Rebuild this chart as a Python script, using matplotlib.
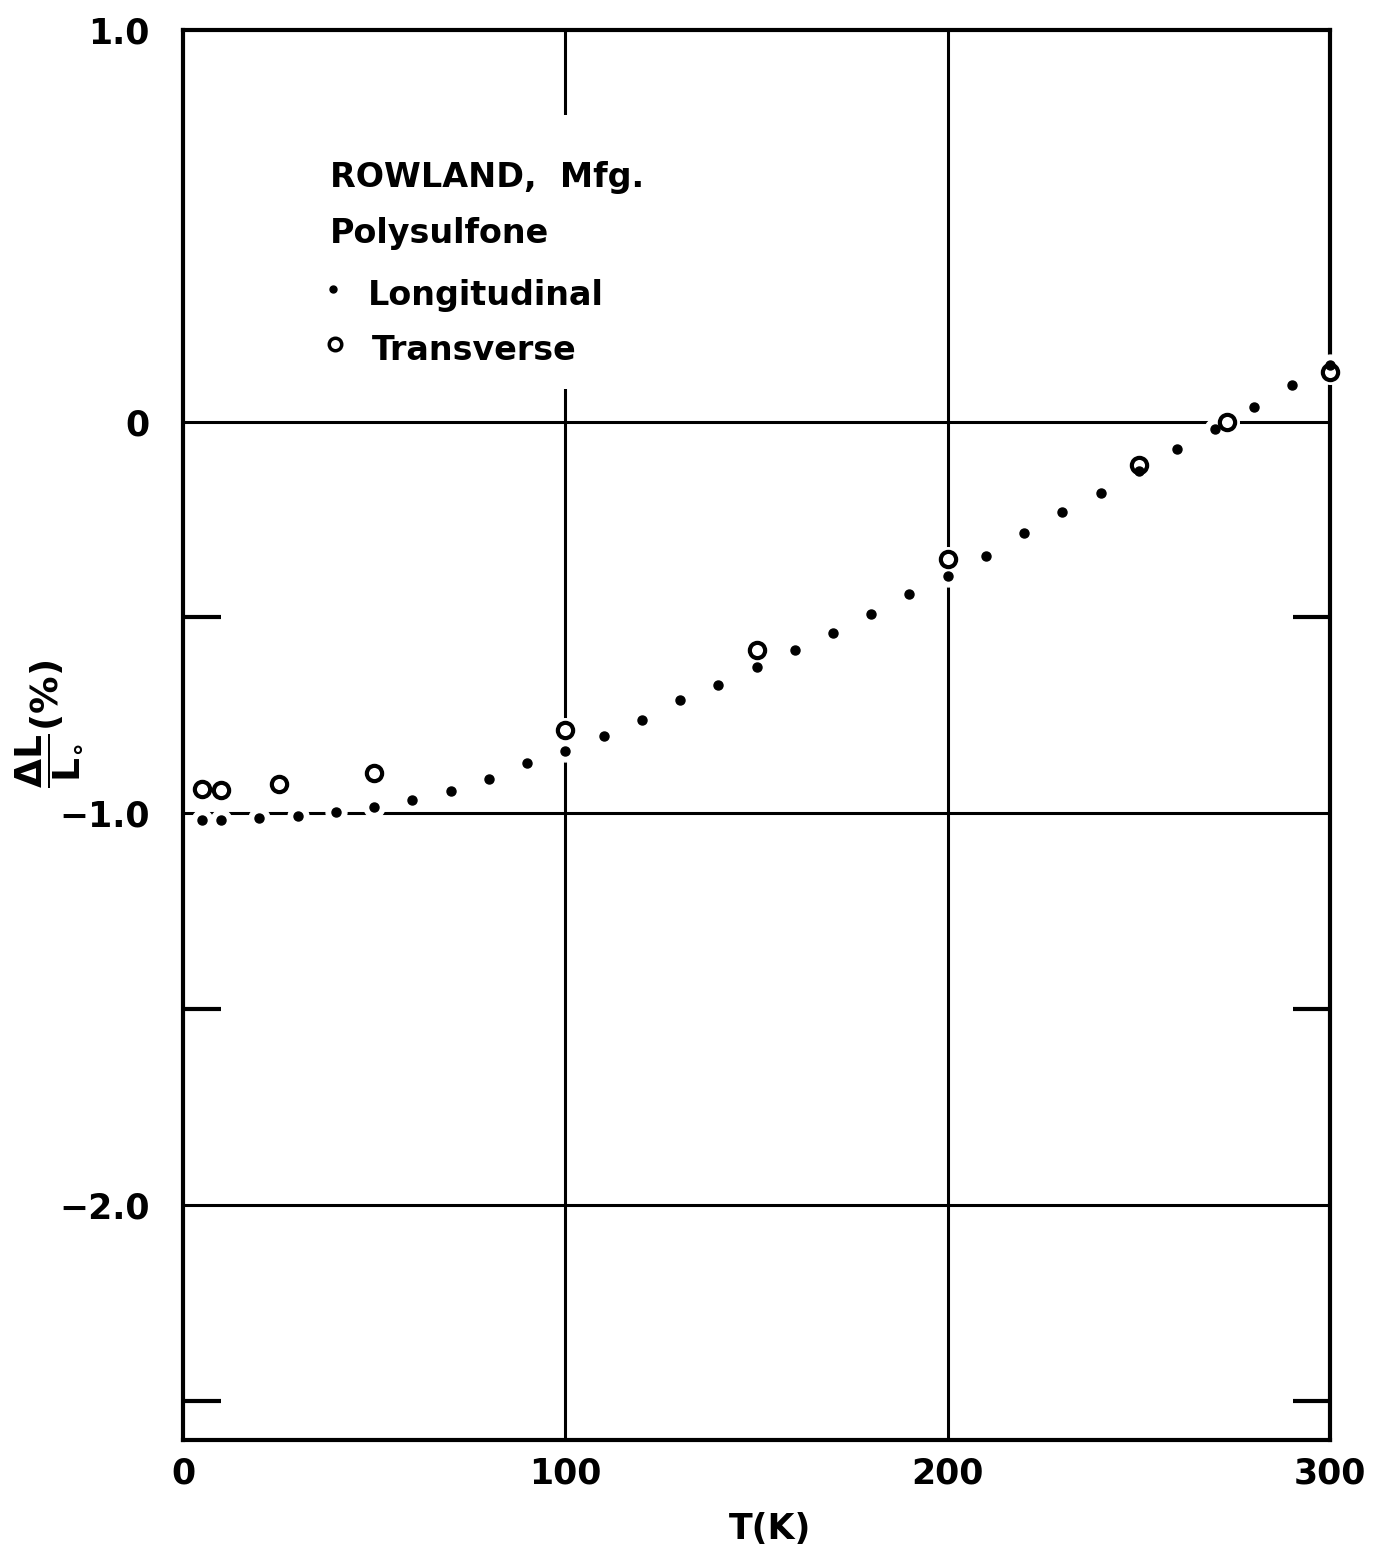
import matplotlib
matplotlib.use("Agg")
import matplotlib.pyplot as plt
from matplotlib.patches import Rectangle

plt.rcParams['font.family'] = ['DejaVu Sans']
plt.rcParams['font.weight'] = 'bold'
plt.rcParams['mathtext.default'] = 'bf'

# thermal expansion of polysulfone, dL/L0 in percent vs temperature
long_T = [5, 10, 20, 30, 40, 50, 60, 70, 80, 90, 100, 110, 120, 130, 140, 150,
          160, 170, 180, 190, 200, 210, 220, 230, 240, 250, 260, 270, 280, 290, 300]
long_dl = [-1.018, -1.018, -1.011, -1.008, -0.996, -0.984, -0.965, -0.944, -0.913,
           -0.872, -0.841, -0.802, -0.763, -0.712, -0.672, -0.627, -0.583, -0.541,
           -0.491, -0.441, -0.394, -0.344, -0.285, -0.232, -0.183, -0.125, -0.071,
           -0.020, 0.036, 0.094, 0.145]

trans_T = [5, 10, 25, 50, 100, 150, 200, 250, 273, 300]
trans_dl = [-0.937, -0.940, -0.924, -0.896, -0.788, -0.584, -0.350, -0.111, 0.0, 0.126]

x_ticks = [0, 100, 200, 300]
x_labels = ['0', '100', '200', '300']
y_ticks = [1.0, 0, -1.0, -2.0]
y_labels = ['1.0', '0', '\u22121.0', '\u22122.0']
y_minor = [-0.5, -1.5, -2.5]

fig = plt.figure(figsize=(13.83, 15.5), dpi=100)
ax = fig.add_axes([0.1323, 0.0710, 0.8294, 0.9097])
ax.set_xlim(0, 300)
ax.set_ylim(-2.6, 1.0)

for s in ax.spines.values():
    s.set_linewidth(3)
    s.set_zorder(2.5)

# full-width rules at the major values
for yv in y_ticks[1:]:
    ax.axhline(yv, color='black', lw=2.2, zorder=1)
for xv in x_ticks[1:-1]:
    ax.axvline(xv, color='black', lw=2.2, zorder=1)

# white halos first so the rules break around the points
ax.plot(long_T, long_dl, ls='none', marker='o', ms=15, color='white',
        zorder=3, clip_on=False)
ax.plot(trans_T, trans_dl, ls='none', marker='o', ms=17, color='white',
        zorder=3, clip_on=False)
ax.plot(trans_T, trans_dl, ls='none', marker='o', ms=11, mfc='white',
        mec='black', mew=3, zorder=4, clip_on=False)
ax.plot(long_T, long_dl, ls='none', marker='o', ms=6.5, color='black',
        zorder=5, clip_on=False)

ax.set_xticks(x_ticks)
ax.set_xticklabels(x_labels)
ax.set_yticks(y_ticks)
ax.set_yticklabels(y_labels)
ax.set_yticks(y_minor, minor=True)
ax.tick_params(axis='both', which='major', length=0, labelsize=25)
ax.tick_params(axis='x', which='major', pad=12)
ax.tick_params(axis='y', which='major', pad=24)
ax.tick_params(axis='y', which='minor', direction='in', length=27, width=3,
               left=True, right=True)

ax.set_xlabel('T(K)', fontsize=25, fontweight='bold')
ax.xaxis.set_label_coords(0.512, -0.051)
ax.set_ylabel(r'$\dfrac{\Delta L}{L_{\circ}}$(%)', fontsize=27, fontweight='bold')
ax.yaxis.set_label_coords(-0.118, 0.508)
ax.yaxis.label.set_va('center')

# legend block, blanking the rule behind it
ax.add_patch(Rectangle((0.119, 0.745), 0.29, 0.195, transform=ax.transAxes,
                       facecolor='white', edgecolor='none', zorder=1.5))
ax.text(0.128, 0.8887, 'ROWLAND,  Mfg.', transform=ax.transAxes, fontsize=24,
        fontweight='bold', va='baseline', zorder=6)
ax.text(0.128, 0.849, 'Polysulfone', transform=ax.transAxes, fontsize=24,
        fontweight='bold', va='baseline', zorder=6)
ax.plot([0.131], [0.816], transform=ax.transAxes, marker='o', ms=5,
        color='black', ls='none', zorder=6)
ax.text(0.161, 0.805, 'Longitudinal', transform=ax.transAxes, fontsize=24,
        fontweight='bold', va='baseline', zorder=6)
ax.plot([0.1325], [0.777], transform=ax.transAxes, marker='o', ms=9,
        mfc='white', mec='black', mew=2.5, ls='none', zorder=6)
ax.text(0.165, 0.766, 'Transverse', transform=ax.transAxes, fontsize=24,
        fontweight='bold', va='baseline', zorder=6)

fig.savefig('out.png', dpi=100)
